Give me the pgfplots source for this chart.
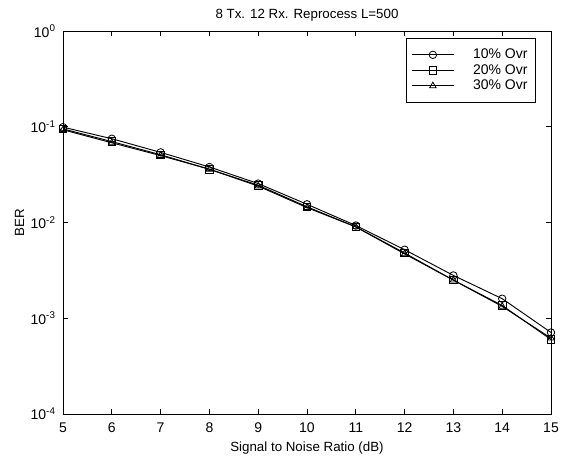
\documentclass[border=0pt]{standalone}
\usepackage{pgfplots}
\pgfplotsset{compat=1.18}
\usepackage{fontspec}
\setmainfont{Liberation Sans}

\begin{document}
\begin{tikzpicture}
\begin{axis}[name=ax, scale only axis, width=366pt, height=287.25pt,
  ymode=log, xmin=5, xmax=15, ymin=1e-4, ymax=1,
  xtick={5,6,...,15}, ytick={1e-4,1e-3,1e-2,1e-1,1},
  yticklabels={10\textsuperscript{-4},10\textsuperscript{-3},10\textsuperscript{-2},10\textsuperscript{-1},10\textsuperscript{0}},
  minor ytick={}, yminorticks=false,
  tick align=inside, tick pos=both, major tick length=3.5pt,
  axis line style={black, line width=0.6pt},
  tick style={black, line width=0.6pt},
  tick label style={font=\fontsize{10.5}{12}\selectfont},
  /pgf/number format/assume math mode=true,
  xticklabel style={yshift=-3pt},
  yticklabel style={xshift=-2pt},
  title={8 Tx. 12 Rx. Reprocess L=500},
  title style={font=\fontsize{10}{12}\selectfont, yshift=-2pt},
  xlabel={Signal to Noise Ratio (dB)},
  ylabel={BER},
  label style={font=\fontsize{10}{12}\selectfont},
  ylabel style={yshift=-2pt},
  legend style={at={(rel axis cs:0.969,0.982)}, anchor=north east,
    draw=black, line width=0.6pt, font=\fontsize{10.5}{12}\selectfont,
    inner xsep=4pt, inner ysep=6pt, row sep=-1.2pt,
    /tikz/every odd column/.append style={column sep=12pt}},
  legend cell align=right,
  legend image code/.code={\draw[#1, mark repeat=2, mark phase=2]
    plot coordinates {(0pt,0pt) (15.75pt,0pt) (31.5pt,0pt)};},
  every axis plot/.append style={black, line width=0.7pt, mark size=2.8pt,
    mark options={solid, fill=none, line width=0.6pt}},
]
\addplot[mark=o] coordinates {
  (5,0.099) (6,0.075) (7,0.054) (8,0.038) (9,0.0255) (10,0.0155)
  (11,0.0093) (12,0.0052) (13,0.0028) (14,0.0016) (15,0.00071)};
\addlegendentry{10\% Ovr}
\addplot[mark=square] coordinates {
  (5,0.095) (6,0.070) (7,0.051) (8,0.036) (9,0.0245) (10,0.0146)
  (11,0.0090) (12,0.0048) (13,0.0025) (14,0.00136) (15,0.00060)};
\addlegendentry{20\% Ovr}
\addplot[mark=triangle] coordinates {
  (5,0.093) (6,0.068) (7,0.050) (8,0.036) (9,0.0240) (10,0.0143)
  (11,0.0090) (12,0.0047) (13,0.0025) (14,0.00133) (15,0.00062)};
\addlegendentry{30\% Ovr}
\end{axis}
\path ([xshift=-47.25pt,yshift=-35.25pt]ax.south west) rectangle ([xshift=9.75pt,yshift=23.25pt]ax.north east);
\end{tikzpicture}
\end{document}
